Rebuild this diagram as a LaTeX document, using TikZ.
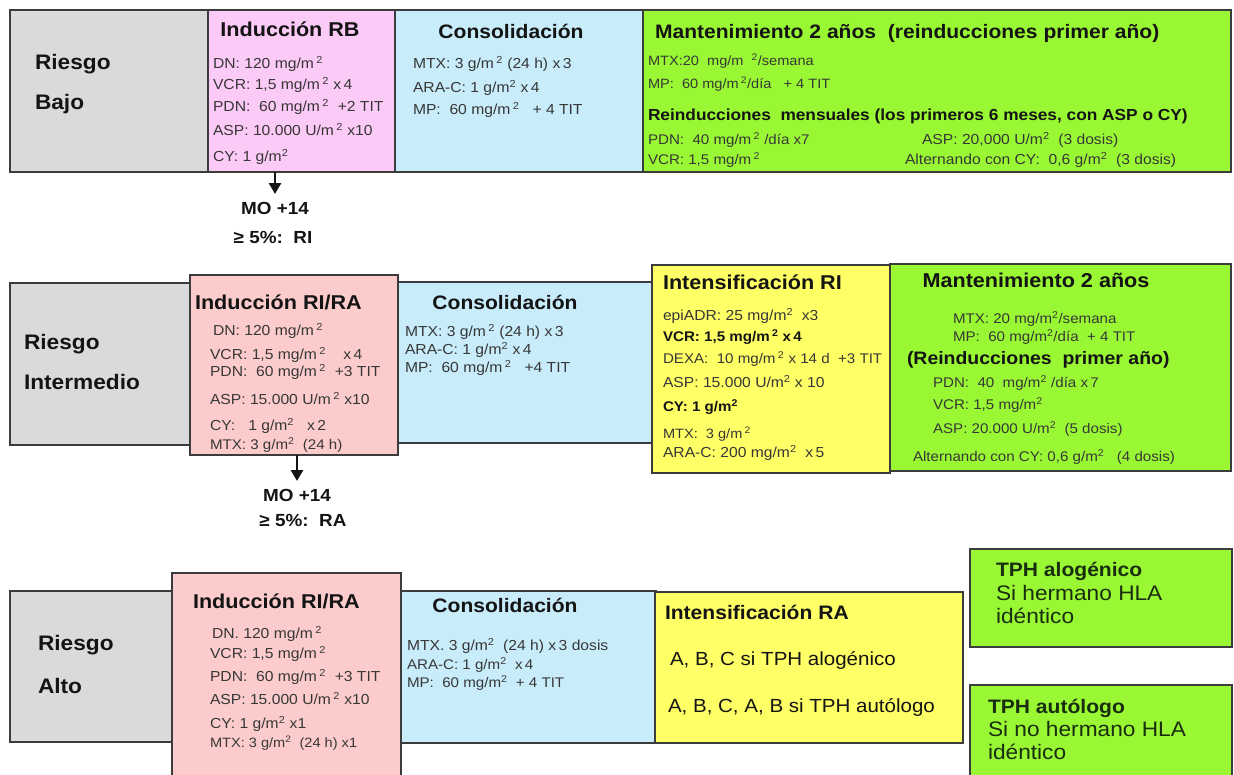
\documentclass[tikz,border=0pt]{standalone}
\usepackage{fontspec}
\setmainfont{Liberation Sans}[FakeStretch=1.08]
\usetikzlibrary{arrows.meta}
\definecolor{cgray}{RGB}{218,218,218}
\definecolor{cpinkA}{RGB}{252,202,246}
\definecolor{cblue}{RGB}{200,236,250}
\definecolor{cgreen}{RGB}{153,248,51}
\definecolor{cpinkB}{RGB}{252,204,204}
\definecolor{cyel}{RGB}{255,255,102}
\definecolor{cedge}{RGB}{60,60,60}
\definecolor{ctext}{RGB}{55,55,55}
\definecolor{ctitle}{RGB}{20,20,20}
\definecolor{ctph}{RGB}{25,45,15}
\newcommand{\msq}{\textsuperscript{2}}
\begin{document}
\begin{tikzpicture}[x=1pt,y=-1pt,
 box/.style={draw=cedge, line width=1.4pt, anchor=north west, inner sep=0pt, outer sep=0pt},
 t/.style={inner sep=0pt, outer sep=0pt, anchor=mid west, yshift=-5pt, text=ctext},
 tt/.style={inner sep=0pt, outer sep=0pt, anchor=mid west, yshift=-5pt, text=ctitle},
 tc/.style={inner sep=0pt, outer sep=0pt, anchor=mid, yshift=-5pt, text=ctitle},
 f/.style={font=\fontsize{#1}{#1}\selectfont},
 fb/.style={font=\fontsize{#1}{#1}\selectfont\bfseries},
 arr/.style={line width=2.6pt, -{Triangle[width=12pt,length=11pt]}, ctitle}]
\useasboundingbox (0,0) rectangle (1234,774);
\clip (0,0) rectangle (1234,774);
\fill[white] (0,0) rectangle (1234,774);

% ---------------- Row 1: Riesgo Bajo ----------------
\node[box, fill=cgray, minimum width=198pt, minimum height=162pt] (g1) at (10,10) {};
\node[box, fill=cpinkA, minimum width=187pt, minimum height=162pt] (p1) at (208,10) {};
\node[box, fill=cblue, minimum width=248pt, minimum height=162pt] (b1) at (395,10) {};
\node[box, fill=cgreen, minimum width=588pt, minimum height=162pt] (m1) at (643,10) {};

\node[tt, fb=21] (g1a) at (35,62) {Riesgo};
\node[tt, fb=21] (g1b) at (35,102) {Bajo};

\node[tc, fb=20] (p1t) at (290,29) {Inducción RB};
\node[t, f=14.5] (p1a) at (213,61) {DN: 120 mg/m\,\msq};
\node[t, f=14.5] (p1b) at (213,82) {VCR: 1,5 mg/m\,\msq{} x\,4};
\node[t, f=14.5] (p1c) at (213,104) {PDN:\ \ 60 mg/m\,\msq\ \ +2 TIT};
\node[t, f=14.5] (p1d) at (213,128) {ASP: 10.000 U/m\,\msq{} x10};
\node[t, f=14.5] (p1e) at (213,154) {CY: 1 g/m\msq};

\node[tc, fb=19.5] (b1t) at (511,31) {Consolidación};
\node[t, f=14.5] (b1a) at (413,61) {MTX: 3 g/m\,\msq{} (24 h) x\,3};
\node[t, f=14.5] (b1b) at (413,85) {ARA-C: 1 g/m\msq{} x\,4};
\node[t, f=14.5] (b1c) at (413,107) {MP:\ \ 60 mg/m\,\msq\ \ \ + 4 TIT};

\node[tt, fb=19.5] (m1t) at (655,31) {Mantenimiento 2 años\ \ (reinducciones primer año)};
\node[t, f=13.5] (m1a) at (648,58) {MTX:20\ \ mg/m\ \ \msq/semana};
\node[t, f=13.5] (m1b) at (648,81) {MP:\ \ 60 mg/m\,\msq/día\ \ \ + 4 TIT};
\node[tt, fb=16] (m1c) at (648,113) {Reinducciones\ \ mensuales (los primeros 6 meses, con ASP o CY)};
\node[t, f=14] (m1d) at (648,137) {PDN:\ \ 40 mg/m\,\msq\ /día x7};
\node[t, f=14] (m1e) at (648,157) {VCR: 1,5 mg/m\,\msq};
\node[t, f=14.5] (m1f) at (922,137) {ASP: 20,000 U/m\msq\ \ (3 dosis)};
\node[t, f=14.5] (m1g) at (905,157) {Alternando con CY:\ \ 0,6 g/m\msq\ \ (3 dosis)};

\node[tc, fb=17.5] (mo1) at (275,207) {MO +14};
\node[tc, fb=17.5] (rr1) at (273,236) {≥ 5\%:\ \ RI};
\coordinate (a1e) at (275,194);
\draw[arr] (p1.south -| a1e) -- (a1e);

% ---------------- Row 2: Riesgo Intermedio ----------------
\node[box, fill=cgray, minimum width=180pt, minimum height=162pt] (g2) at (10,283) {};
\node[box, fill=cblue, minimum width=254pt, minimum height=161pt] (b2) at (398,282) {};
\node[box, fill=cpinkB, minimum width=208pt, minimum height=180pt] (p2) at (190,275) {};
\node[box, fill=cgreen, minimum width=341pt, minimum height=207pt] (m2) at (890,264) {};
\node[box, fill=cyel, minimum width=238pt, minimum height=208pt] (y2) at (652,265) {};

\node[tt, fb=21] (g2a) at (24,342) {Riesgo};
\node[tt, fb=21] (g2b) at (24,382) {Intermedio};

\node[tt, fb=20] (p2t) at (195,302) {Inducción RI/RA};
\node[t, f=14.5] (p2a) at (213,328) {DN: 120 mg/m\,\msq};
\node[t, f=14.5] (p2b) at (210,352) {VCR: 1,5 mg/m\,\msq\ \ \ \ x\,4};
\node[t, f=14.5] (p2c) at (210,369) {PDN:\ \ 60 mg/m\,\msq\ \ +3 TIT};
\node[t, f=14.5] (p2d) at (210,397) {ASP: 15.000 U/m\,\msq{} x10};
\node[t, f=14.5] (p2e) at (210,423) {CY:\ \ \ 1 g/m\msq\ \ \ x\,2};
\node[t, f=14] (p2f) at (210,442) {MTX: 3 g/m\msq\ \ (24 h)};

\coordinate (a2e) at (297,481);
\draw[arr] (p2.south -| a2e) -- (a2e);
\node[tc, fb=17.5] (mo2) at (297,494) {MO +14};
\node[tc, fb=17.5] (rr2) at (303,519) {≥ 5\%:\ \ RA};

\node[tc, fb=19.5] (b2t) at (505,302) {Consolidación};
\node[t, f=14.5] (b2a) at (405,329) {MTX: 3 g/m\,\msq{} (24 h) x\,3};
\node[t, f=14.5] (b2b) at (405,347) {ARA-C: 1 g/m\msq{} x\,4};
\node[t, f=14.5] (b2c) at (405,365) {MP:\ \ 60 mg/m\,\msq\ \ \ +4 TIT};

\node[tt, fb=20] (y2t) at (663,282) {Intensificación RI};
\node[t, f=14.5] (y2a) at (663,313) {epiADR: 25 mg/m\msq\ \ x3};
\node[tt, fb=14] (y2b) at (663,334) {VCR: 1,5 mg/m\,\msq{} x\,4};
\node[t, f=14] (y2c) at (663,356) {DEXA:\ \ 10 mg/m\,\msq{} x 14 d\ \ +3 TIT};
\node[t, f=14.5] (y2d) at (663,380) {ASP: 15.000 U/m\msq{} x 10};
\node[tt, fb=14] (y2e) at (663,404) {CY: 1 g/m\msq};
\node[t, f=13.5] (y2f) at (663,431) {MTX:\ \ 3 g/m\,\msq};
\node[t, f=14.5] (y2g) at (663,450) {ARA-C: 200 mg/m\msq\ \ x\,5};

\node[tc, fb=20] (m2t) at (1036,280) {Mantenimiento 2 años};
\node[t, f=14] (m2a) at (953,316) {MTX: 20 mg/m\msq/semana};
\node[t, f=14] (m2b) at (953,334) {MP:\ \ 60 mg/m\msq/día\ \ + 4 TIT};
\node[tt, fb=18] (m2c) at (907,357) {(Reinducciones\ \ primer año)};
\node[t, f=14] (m2d) at (933,380) {PDN:\ \ 40\ \ mg/m\msq\ /día x\,7};
\node[t, f=14] (m2e) at (933,402) {VCR: 1,5 mg/m\msq};
\node[t, f=14] (m2f) at (933,426) {ASP: 20.000 U/m\msq\ \ (5 dosis)};
\node[t, f=14] (m2g) at (913,454) {Alternando con CY: 0,6 g/m\msq\ \ \ (4 dosis)};

% ---------------- Row 3: Riesgo Alto ----------------
\node[box, fill=cgray, minimum width=162pt, minimum height=151pt] (g3) at (10,591) {};
\node[box, fill=cpinkB, minimum width=229pt, minimum height=220pt] (p3) at (172,573) {};
\node[box, fill=cblue, minimum width=255pt, minimum height=152pt] (b3) at (401,591) {};
\node[box, fill=cyel, minimum width=308pt, minimum height=151pt] (y3) at (655,592) {};
\node[box, fill=cgreen, minimum width=262pt, minimum height=98pt] (h1) at (970,549) {};
\node[box, fill=cgreen, minimum width=262pt, minimum height=100pt] (h2) at (970,685) {};

\node[tt, fb=21] (g3a) at (38,643) {Riesgo};
\node[tt, fb=21] (g3b) at (38,686) {Alto};

\node[tt, fb=20] (p3t) at (193,601) {Inducción RI/RA};
\node[t, f=14.5] (p3a) at (212,631) {DN. 120 mg/m\,\msq};
\node[t, f=14.5] (p3b) at (210,651) {VCR: 1,5 mg/m\,\msq};
\node[t, f=14.5] (p3c) at (210,674) {PDN:\ \ 60 mg/m\,\msq\ \ +3 TIT};
\node[t, f=14.5] (p3d) at (210,697) {ASP: 15.000 U/m\,\msq{} x10};
\node[t, f=14.5] (p3e) at (210,721) {CY: 1 g/m\msq{} x1};
\node[t, f=13.5] (p3f) at (210,740) {MTX: 3 g/m\msq\ \ (24 h) x1};

\node[tc, fb=19.5] (b3t) at (505,605) {Consolidación};
\node[t, f=14.5] (b3a) at (407,643) {MTX. 3 g/m\textsuperscript{2}\ \ (24 h) x\,3 dosis};
\node[t, f=14] (b3b) at (407,662) {ARA-C: 1 g/m\textsuperscript{2}\ \ x\,4};
\node[t, f=14] (b3c) at (407,680) {MP:\ \ 60 mg/m\textsuperscript{2}\ \ + 4 TIT};

\node[tt, fb=19.5] (y3t) at (665,612) {Intensificación RA};
\node[tt, f=19] (y3a) at (670,658) {A, B, C si TPH alogénico};
\node[tt, f=19] (y3b) at (668,705) {A, B, C, A, B si TPH autólogo};

\node[t, fb=19.5, text=ctph] (h1a) at (996,569) {TPH alogénico};
\node[t, f=21, text=ctph] (h1b) at (996,593) {Si hermano HLA};
\node[t, f=21, text=ctph] (h1c) at (996,616) {idéntico};
\node[t, fb=19.5, text=ctph] (h2a) at (988,706) {TPH autólogo};
\node[t, f=21, text=ctph] (h2b) at (988,729) {Si no hermano HLA};
\node[t, f=21, text=ctph] (h2c) at (988,752) {idéntico};
\end{tikzpicture}
\end{document}
